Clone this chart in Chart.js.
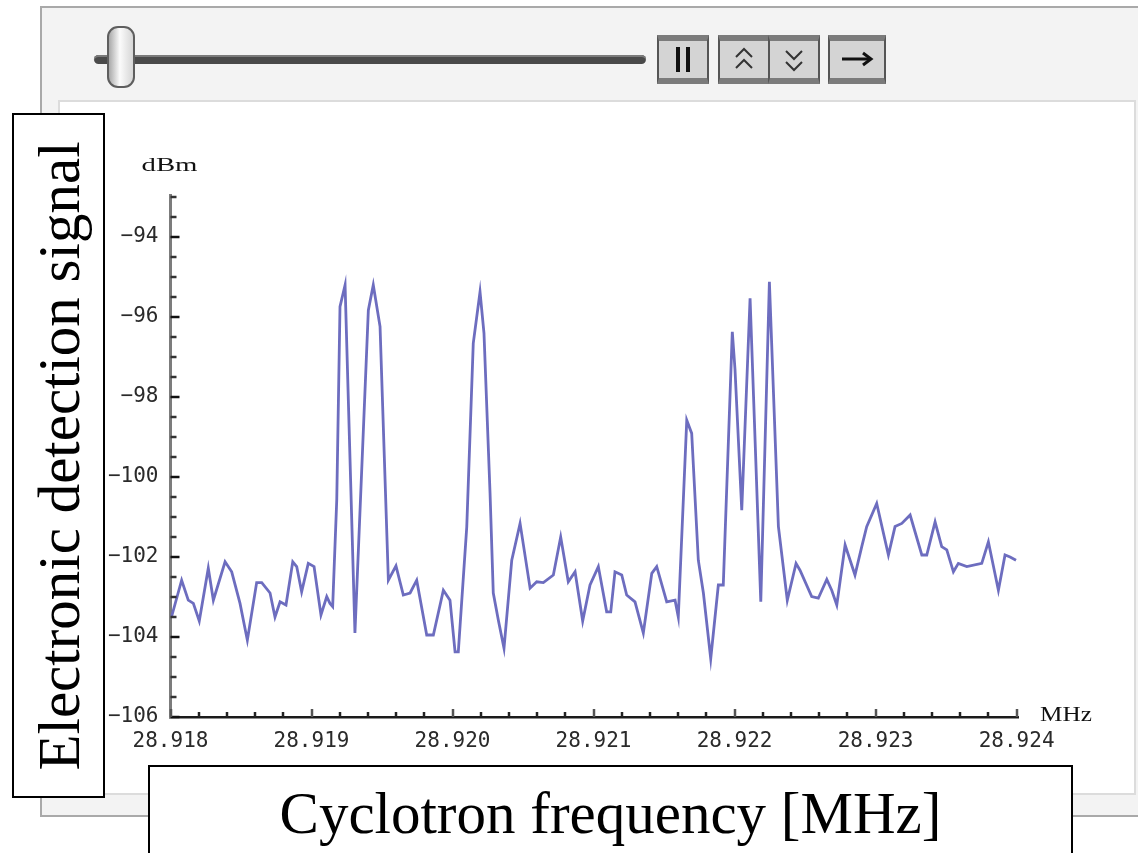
<!DOCTYPE html>
<html>
<head>
<meta charset="utf-8">
<script src="https://cdn.jsdelivr.net/npm/chart.js@4.4.0/dist/chart.umd.min.js"></script>
<style>
html,body{margin:0;padding:0;background:#fff;width:1138px;height:853px;overflow:hidden;}
body{position:relative;}
.abs{position:absolute;box-sizing:border-box;}
#outer{left:40px;top:6px;width:1120px;height:811px;background:#f3f3f3;border:2px solid #a9a9a9;}
#inner{left:58px;top:100px;width:1078px;height:695px;background:#fff;border:2px solid #dcdcdc;}
#track{left:94px;top:55px;width:552px;height:9px;background:#4a4a4a;border-radius:5px;box-shadow:inset 0 2px 0 #7a7a7a;}
#knob{left:107px;top:26px;width:28px;height:62px;border-radius:11px;background:linear-gradient(to right,#a9a9a9,#fbfbfb 45%,#d6d6d6);border:2px solid #5e5e5e;}
.btn{top:35px;height:49px;background:#d4d4d4;border:2px solid #555;border-top:6px solid #7b7b7b;border-bottom:6px solid #7b7b7b;}
#chartwrap{left:0;top:0;width:1138px;height:853px;}
#ybox{left:12px;top:113px;width:93px;height:685px;border:2px solid #000;background:#fff;}
#xbox{left:148px;top:765px;width:925px;height:110px;border:2px solid #000;background:#fff;}
.lbl{position:absolute;font-family:"Liberation Serif","Times New Roman",serif;font-size:59px;color:#000;white-space:nowrap;line-height:1;}
#ylab{left:50%;top:50%;transform:translate(-50%,-50%) rotate(-90deg);}
#xlab{left:0;right:0;top:17px;text-align:center;}
</style>
</head>
<body>
<div id="outer" class="abs"></div>
<div id="track" class="abs"></div>
<div id="knob" class="abs"></div>
<div class="abs btn" style="left:657px;width:52px;">
  <svg width="48" height="37" style="display:block"><rect x="17" y="6" width="4" height="25" fill="#111"/><rect x="27" y="6" width="4" height="25" fill="#111"/></svg>
</div>
<div class="abs btn" style="left:718px;width:52px;">
  <svg width="48" height="37" style="display:block"><polyline points="16,16 24,8 32,16" fill="none" stroke="#333" stroke-width="2"/><polyline points="16,27 24,19 32,27" fill="none" stroke="#333" stroke-width="2"/></svg>
</div>
<div class="abs btn" style="left:768px;width:52px;">
  <svg width="48" height="37" style="display:block"><polyline points="16,10 24,18 32,10" fill="none" stroke="#333" stroke-width="2"/><polyline points="16,21 24,29 32,21" fill="none" stroke="#333" stroke-width="2"/></svg>
</div>
<div class="abs btn" style="left:828px;width:58px;">
  <svg width="54" height="37" style="display:block"><line x1="12" y1="18" x2="40" y2="18" stroke="#111" stroke-width="3"/><polyline points="33,12 41,18 33,24" fill="none" stroke="#111" stroke-width="3"/></svg>
</div>
<div id="inner" class="abs"></div>
<div id="chartwrap" class="abs"><canvas id="c" width="1138" height="853"></canvas></div>
<div id="ybox" class="abs"><div id="ylab" class="lbl">Electronic detection signal</div></div>
<div id="xbox" class="abs"><div id="xlab" class="lbl">Cyclotron frequency [MHz]</div></div>

<script>
// ---- data ----
const frequencyMHz = [
  28.918007, 28.918079, 28.918126, 28.918162, 28.918204, 28.918268, 28.918304, 28.918387,
  28.918434, 28.918493, 28.918545, 28.918611, 28.918647, 28.918706, 28.918741, 28.918777,
  28.918819, 28.918867, 28.918895, 28.918930, 28.918977, 28.919018, 28.919067, 28.919108,
  28.919131, 28.919150, 28.919179, 28.919202, 28.919238, 28.919308, 28.919403, 28.919438,
  28.919486, 28.919545, 28.919599, 28.919651, 28.919699, 28.919746, 28.919817, 28.919864,
  28.919935, 28.919982, 28.920018, 28.920041, 28.920101, 28.920147, 28.920195, 28.920223,
  28.920266, 28.920289, 28.920325, 28.920365, 28.920420, 28.920479, 28.920550, 28.920597,
  28.920644, 28.920715, 28.920767, 28.920821, 28.920869, 28.920923, 28.920975, 28.921034,
  28.921093, 28.921122, 28.921152, 28.921200, 28.921235, 28.921294, 28.921353, 28.921413,
  28.921448, 28.921519, 28.921578, 28.921601, 28.921661, 28.921696, 28.921743, 28.921779,
  28.921831, 28.921885, 28.921920, 28.921984, 28.922003, 28.922051, 28.922110, 28.922186,
  28.922247, 28.922311, 28.922374, 28.922436, 28.922464, 28.922547, 28.922594, 28.922654,
  28.922689, 28.922725, 28.922784, 28.922854, 28.922902, 28.922937, 28.923008, 28.923091,
  28.923138, 28.923186, 28.923245, 28.923328, 28.923363, 28.923422, 28.923469, 28.923505,
  28.923552, 28.923587, 28.923647, 28.923753, 28.923800, 28.923871, 28.923918, 28.923954,
  28.923996
];
const signalDBm = [
  -103.5, -102.58, -103.08, -103.16, -103.6, -102.28, -103.08, -102.12,
  -102.37, -103.16, -104.08, -102.64, -102.64, -102.9, -103.5, -103.12,
  -103.2, -102.12, -102.24, -102.87, -102.16, -102.24, -103.45, -102.99,
  -103.16, -103.24, -100.57, -95.74, -95.2, -103.9, -95.83, -95.2,
  -96.24, -102.58, -102.22, -102.95, -102.9, -102.58, -103.95, -103.95,
  -102.83, -103.08, -104.37, -104.37, -101.24, -96.66, -95.37, -96.4,
  -100.4, -102.9, -103.58, -104.28, -102.08, -101.16, -102.78, -102.62,
  -102.64, -102.45, -101.5, -102.62, -102.37, -103.6, -102.7, -102.24,
  -103.37, -103.37, -102.37, -102.45, -102.95, -103.12, -103.9, -102.41,
  -102.24, -103.12, -103.08, -103.5, -98.58, -98.91, -102.08, -102.9,
  -104.54, -102.7, -102.7, -96.37, -97.3, -100.83, -95.53, -103.12,
  -95.12, -101.24, -103.08, -102.16, -102.33, -102.99, -103.03, -102.56,
  -102.83, -103.2, -101.7, -102.45, -101.74, -101.24, -100.66, -101.95,
  -101.24, -101.16, -100.95, -101.95, -101.95, -101.12, -101.74, -101.82,
  -102.37, -102.16, -102.24, -102.16, -101.62, -102.83, -101.95, -102.0,
  -102.08
];
const xTickValues = [28.918, 28.919, 28.920, 28.921, 28.922, 28.923, 28.924];
const yTickValues = [-106, -104, -102, -100, -98, -96, -94];
const xUnitLabel = 'MHz';
const yUnitLabel = 'dBm';

// ---- chart ----
const X_MIN = 28.918, X_MAX = 28.92401, Y_MIN = -106, Y_MAX = -92.95;
const tickFont = {family: '"DejaVu Sans Mono", "Liberation Mono", monospace', size: 21};

const mmaAxes = {
  id: 'mmaAxes',
  afterDraw(chart) {
    const {ctx, chartArea: a, scales: {x, y}} = chart;
    ctx.save();
    ctx.lineCap = 'butt';
    // y ticks (inside, pointing right)
    for (let i = 0; i <= 26; i++) {
      const v = Y_MIN + i * 0.5;
      const major = yTickValues.includes(v);
      const py = Math.round(y.getPixelForValue(v));
      ctx.strokeStyle = major ? '#111' : '#333';
      ctx.lineWidth = 2.5;
      ctx.beginPath();
      ctx.moveTo(a.left, py);
      ctx.lineTo(a.left + (major ? 9 : 6), py);
      ctx.stroke();
    }
    // x ticks (inside, pointing up)
    for (let i = 0; i <= 30; i++) {
      const v = X_MIN + i * 0.0002;
      const major = i % 5 === 0;
      const px = Math.round(x.getPixelForValue(v));
      ctx.strokeStyle = major ? '#555' : '#222';
      ctx.lineWidth = 2.5;
      ctx.beginPath();
      ctx.moveTo(px, a.bottom);
      ctx.lineTo(px, a.bottom - (major ? 8 : 5));
      ctx.stroke();
    }
    // unit labels
    ctx.fillStyle = '#111';
    ctx.textBaseline = 'middle';
    ctx.textAlign = 'center';
    ctx.font = '24px "Liberation Serif", serif';
    ctx.save();
    ctx.translate(a.left - 1, a.top - 29);
    ctx.scale(1.2, 0.8);
    ctx.fillText(yUnitLabel, 0, 0);
    ctx.restore();
    ctx.save();
    ctx.translate(a.right + 48, a.bottom - 1);
    ctx.scale(1.05, 0.85);
    ctx.fillText(xUnitLabel, 0, 0);
    ctx.restore();
    ctx.restore();
  }
};

new Chart(document.getElementById('c'), {
  type: 'line',
  data: {
    datasets: [{
      data: frequencyMHz.map((f, i) => ({x: f, y: signalDBm[i]})),
      borderColor: '#6d6dbf',
      borderWidth: 2.8,
      pointRadius: 0,
      tension: 0,
      fill: false
    }]
  },
  options: {
    responsive: false,
    animation: false,
    devicePixelRatio: 1,
    layout: {padding: {left: 0.5, top: 195, right: 120, bottom: 76}},
    plugins: {legend: {display: false}, tooltip: {enabled: false}},
    scales: {
      x: {
        type: 'linear', min: X_MIN, max: X_MAX,
        afterBuildTicks: s => { s.ticks = xTickValues.map(v => ({value: v})); },
        afterFit: s => { s.height = 60; },
        ticks: {callback: v => Number(v).toFixed(3), font: tickFont, color: '#2a2a2a', padding: 12, maxRotation: 0, autoSkip: false},
        grid: {display: true, drawOnChartArea: false, drawTicks: false},
        border: {display: true, color: '#1b1b1b', width: 2.5}
      },
      y: {
        type: 'linear', min: Y_MIN, max: Y_MAX,
        afterBuildTicks: s => { s.ticks = yTickValues.map(v => ({value: v})); },
        afterFit: s => { s.width = 170; },
        ticks: {callback: v => String(v).replace('-', '\u2212'), font: tickFont, color: '#2a2a2a', padding: 12, autoSkip: false},
        grid: {display: true, drawOnChartArea: false, drawTicks: false},
        border: {display: true, color: '#7c7c7c', width: 3}
      }
    }
  },
  plugins: [mmaAxes]
});
</script>
</body>
</html>
